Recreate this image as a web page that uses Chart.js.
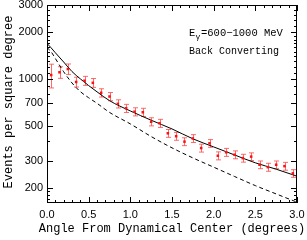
<!DOCTYPE html>
<html>
<head>
<meta charset="utf-8">
<script src="https://cdn.jsdelivr.net/npm/chart.js@4.4.0/dist/chart.umd.min.js"></script>
<style>
html, body { margin: 0; padding: 0; background: #fff; }
</style>
</head>
<body>
<canvas id="myChart" width="307" height="240"></canvas>
<script>
// measured points (events per square degree) with errors
const angles = [0.05, 0.15, 0.25, 0.35, 0.45, 0.55, 0.65, 0.75, 0.85, 0.95,
                1.05, 1.15, 1.25, 1.35, 1.45, 1.55, 1.65, 1.75, 1.85, 1.95,
                2.05, 2.15, 2.25, 2.35, 2.45, 2.55, 2.65, 2.75, 2.85, 2.95];
const counts = [1064, 1108, 1163, 960, 978, 948, 818, 774, 695, 650,
                618, 613, 533, 521, 449, 430, 397, 416, 361, 387,
                322, 339, 327, 311, 318, 282, 272, 282, 276, 248];
const errs = [185, 95, 90, 69, 65, 62, 50, 47, 42, 39,
              37, 37, 32, 31, 26, 25, 23, 24, 21, 22,
              19, 20, 19, 18, 18, 16, 16, 16, 16, 14];

// model curves
const curveX = [0, 0.05, 0.1, 0.2, 0.3, 0.4, 0.5, 0.6, 0.75, 1.0, 1.25, 1.5, 1.75, 2.0, 2.25, 2.5, 2.75, 3.0];
const fitSolid = [1700, 1590, 1480, 1290, 1120, 1005, 910, 830, 728, 625, 545, 479, 414, 367, 326, 290, 264, 238];
const fitDashed = [1600, 1500, 1360, 1117, 946, 832, 760, 700, 612, 516, 428, 362, 312, 272, 237, 207, 183, 162];

// axis ticks
const xTickLabels = [0, 0.5, 1.0, 1.5, 2.0, 2.5, 3.0];
const yTickLabels = [200, 300, 500, 700, 1000, 2000, 3000];
const yMinorTicks = [170, 180, 190, 400, 600, 800, 900,
                     1100, 1200, 1300, 1400, 1500, 1600, 1700, 1800, 1900,
                     2200, 2400, 2600, 2800];

const monoFont = "'Liberation Mono', 'DejaVu Sans Mono', monospace";
const sansFont = "'Liberation Sans', Arial, sans-serif";

const frameAndBars = {
  id: 'frameAndBars',
  beforeDatasetsDraw(chart) {
    const ctx = chart.ctx;
    const x = chart.scales.x, y = chart.scales.y;
    ctx.save();
    ctx.strokeStyle = 'rgba(255, 80, 80, 0.85)';
    ctx.lineWidth = 1;
    angles.forEach((a, i) => {
      const px = Math.round(x.getPixelForValue(a)) + 0.5;
      const top = y.getPixelForValue(counts[i] + errs[i]);
      const bot = y.getPixelForValue(counts[i] - errs[i]);
      ctx.beginPath();
      ctx.moveTo(px, top); ctx.lineTo(px, bot);
      ctx.moveTo(px - 2.5, top); ctx.lineTo(px + 2.5, top);
      ctx.moveTo(px - 2.5, bot); ctx.lineTo(px + 2.5, bot);
      ctx.stroke();
    });
    ctx.restore();
  },
  afterDraw(chart) {
    const ctx = chart.ctx;
    const x = chart.scales.x, y = chart.scales.y;
    const a = chart.chartArea;
    ctx.save();
    ctx.strokeStyle = '#000';
    ctx.lineWidth = 1;
    ctx.strokeRect(a.left + 0.5, a.top + 0.5, a.right - a.left - 1, a.bottom - a.top - 1);

    ctx.beginPath();
    // x ticks, bottom and top
    for (let k = 0; k <= 30; k++) {
      const px = Math.round(x.getPixelForValue(k / 10)) + 0.5;
      const len = (k % 5 === 0) ? 6 : 3;
      ctx.moveTo(px, a.bottom); ctx.lineTo(px, a.bottom - len);
      ctx.moveTo(px, a.top); ctx.lineTo(px, a.top + len);
    }
    // y ticks, left and right
    const yt = yTickLabels.map(v => [v, 6]).concat(yMinorTicks.map(v => [v, 3]));
    yt.forEach(([v, len]) => {
      const py = Math.round(y.getPixelForValue(v)) + 0.5;
      ctx.moveTo(a.left, py); ctx.lineTo(a.left + len, py);
      ctx.moveTo(a.right, py); ctx.lineTo(a.right - len, py);
    });
    ctx.stroke();

    // axis titles
    ctx.fillStyle = '#000';
    ctx.font = '12px ' + monoFont;
    ctx.textAlign = 'center';
    ctx.textBaseline = 'middle';
    ctx.fillText('Angle From Dynamical Center (degrees)', 172, 229);
    ctx.save();
    ctx.translate(9, 102);
    ctx.rotate(-Math.PI / 2);
    ctx.fillText('Events per square degree', 0, 0);
    ctx.restore();

    // annotation
    ctx.textAlign = 'left';
    ctx.textBaseline = 'alphabetic';
    ctx.font = '10.5px ' + monoFont;
    ctx.fillText('E', 189, 36);
    ctx.font = '8px ' + monoFont;
    ctx.fillText('\u03b3', 195.5, 39);
    ctx.font = '10.5px ' + monoFont;
    ctx.fillText('=600\u22121000 MeV', 201, 36);
    ctx.font = '10px ' + monoFont;
    ctx.fillText('Back Converting', 189, 54);
    ctx.restore();
  }
};

const ctx = document.getElementById('myChart');
const myChart = new Chart(ctx, {
  type: 'scatter',
  data: {
    datasets: [{
      label: 'Data',
      data: angles.map((a, i) => ({x: a, y: counts[i]})),
      pointStyle: 'rect',
      pointRadius: 1.8,
      backgroundColor: '#ff1010',
      borderWidth: 0
    }, {
      label: 'Model',
      data: curveX.map((a, i) => ({x: a, y: fitSolid[i]})),
      showLine: true,
      borderColor: '#000',
      borderWidth: 1,
      pointRadius: 0,
      cubicInterpolationMode: 'monotone'
    }, {
      label: 'Model dashed',
      data: curveX.map((a, i) => ({x: a, y: fitDashed[i]})),
      showLine: true,
      borderColor: '#000',
      borderWidth: 1,
      borderDash: [4, 3],
      pointRadius: 0,
      cubicInterpolationMode: 'monotone'
    }]
  },
  options: {
    responsive: false,
    animation: false,
    devicePixelRatio: 1,
    layout: { padding: { top: 5, right: 10, left: 0, bottom: 0 } },
    plugins: { legend: { display: false }, tooltip: { enabled: false } },
    scales: {
      x: {
        type: 'linear',
        min: 0,
        max: 3,
        grid: { display: false, drawTicks: false },
        border: { display: false },
        afterBuildTicks: s => { s.ticks = xTickLabels.map(v => ({value: v})); },
        afterFit: s => {
          s.height = 37;
          s.paddingLeft = 0; s.paddingRight = 0;
        },
        ticks: {
          padding: 5,
          autoSkip: false,
          maxRotation: 0,
          color: '#000',
          font: { family: sansFont, size: 11 },
          callback: v => Number(v).toFixed(1)
        }
      },
      y: {
        type: 'logarithmic',
        min: 160,
        max: 3000,
        grid: { display: false, drawTicks: false },
        border: { display: false },
        afterBuildTicks: s => { s.ticks = yTickLabels.map(v => ({value: v})); },
        afterFit: s => {
          s.width = 47;
          s.paddingTop = 0; s.paddingBottom = 0;
        },
        ticks: {
          padding: 4,
          autoSkip: false,
          color: '#000',
          font: { family: sansFont, size: 11 },
          callback: v => String(v)
        }
      }
    }
  },
  plugins: [frameAndBars]
});
</script>
</body>
</html>
